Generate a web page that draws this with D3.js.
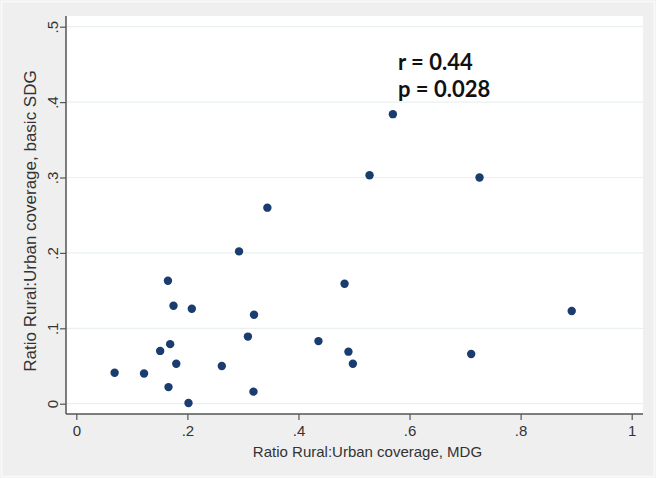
<!DOCTYPE html>
<meta charset="utf-8">
<script src="https://cdn.jsdelivr.net/npm/d3@7/dist/d3.min.js"></script>
<style>
body { margin: 0; background: #efefef; }
text { font-family: "Liberation Sans", Arial, sans-serif; fill: #333; }
.ann { font-family: Lato, "Open Sans", sans-serif; font-weight: 700; font-size: 22px; fill: #111; }
</style>
<body>
<script>

// MDG ratio (x) and basic SDG ratio (y), one entry per country
var mdg = [0.069, 0.122, 0.151, 0.165, 0.169, 0.175, 0.180, 0.166, 0.202, 0.208,
           0.262, 0.293, 0.309, 0.320, 0.319, 0.344, 0.436, 0.483, 0.490, 0.498,
           0.528, 0.570, 0.711, 0.726, 0.892];
var sdg = [0.041, 0.040, 0.070, 0.163, 0.079, 0.130, 0.053, 0.022, 0.001, 0.126,
           0.050, 0.202, 0.089, 0.118, 0.016, 0.260, 0.083, 0.159, 0.069, 0.053,
           0.303, 0.384, 0.066, 0.300, 0.123];

var xTicks = [0, 0.2, 0.4, 0.6, 0.8, 1];
var yTicks = [0, 0.1, 0.2, 0.3, 0.4, 0.5];
var notes = ["r = 0.44", "p = 0.028"];

var width = 656, height = 478;

var svg = d3.select("body").append("svg")
    .attr("width", width)
    .attr("height", height);

// outer frame
svg.append("rect")
    .attr("x", 1.5).attr("y", 1.5)
    .attr("width", width - 3).attr("height", height - 3)
    .attr("fill", "#efefef")
    .attr("stroke", "#fafafa")
    .attr("stroke-width", 1.5);

var plot = {left: 66, top: 16, right: 643, bottom: 414};

var x = d3.scaleLinear().domain([0, 1]).range([76.3, 631.7]);
var y = d3.scaleLinear().domain([0, 0.5]).range([403.7, 26.7]);

svg.append("rect")
    .attr("x", plot.left).attr("y", plot.top)
    .attr("width", plot.right - plot.left)
    .attr("height", plot.bottom - plot.top)
    .attr("fill", "#fff");

// grid lines
svg.append("g")
  .selectAll("line")
  .data(yTicks)
  .enter().append("line")
    .attr("x1", plot.left).attr("x2", plot.right)
    .attr("y1", function(d) { return y(d); })
    .attr("y2", function(d) { return y(d); })
    .attr("stroke", "#eaf0f2")
    .attr("stroke-width", 1.2);

// x axis
var xAxis = svg.append("g")
    .attr("transform", "translate(0," + plot.bottom + ")")
    .call(d3.axisBottom(x).tickValues(xTicks).tickSize(6).tickPadding(5)
      .tickFormat(function(d) { return d === 0 ? "0" : d === 1 ? "1" : d3.format(".1f")(d).replace(/^0/, ""); }));
xAxis.select(".domain").remove();
xAxis.append("line")
    .attr("x1", plot.left).attr("x2", plot.right)
    .attr("stroke", "#555").attr("stroke-width", 1.5);
xAxis.selectAll(".tick line").attr("stroke", "#555").attr("stroke-width", 1.2);
xAxis.selectAll(".tick text").attr("font-size", 15).attr("fill", "#333")
    .attr("font-family", "Liberation Sans, Arial, sans-serif");

// y axis
var yAxis = svg.append("g")
    .attr("transform", "translate(" + plot.left + ",0)")
    .call(d3.axisLeft(y).tickValues(yTicks).tickSize(6).tickPadding(0)
      .tickFormat(function(d) { return d === 0 ? "0" : d3.format(".1f")(d).replace(/^0/, ""); }));
yAxis.select(".domain").remove();
yAxis.append("line")
    .attr("y1", plot.top).attr("y2", plot.bottom)
    .attr("stroke", "#555").attr("stroke-width", 1.5);
yAxis.selectAll(".tick line").attr("stroke", "#555").attr("stroke-width", 1.2);
yAxis.selectAll(".tick text")
    .attr("font-size", 15).attr("fill", "#333")
    .attr("font-family", "Liberation Sans, Arial, sans-serif")
    .attr("x", null).attr("dy", null)
    .attr("text-anchor", "middle")
    .attr("transform", "translate(-13,0) rotate(-90)")
    .attr("y", 5);

// axis titles
svg.append("text")
    .attr("x", (plot.left + plot.right) / 2 + 13)
    .attr("y", 457)
    .attr("text-anchor", "middle")
    .attr("font-size", 15)
    .text("Ratio Rural:Urban coverage, MDG");

svg.append("text")
    .attr("transform", "translate(36,221) rotate(-90)")
    .attr("text-anchor", "middle")
    .attr("font-size", 17)
    .text("Ratio Rural:Urban coverage, basic SDG");

// points
svg.append("g")
  .selectAll("circle")
  .data(mdg)
  .enter().append("circle")
    .attr("cx", function(d) { return x(d); })
    .attr("cy", function(d, i) { return y(sdg[i]); })
    .attr("r", 4.2)
    .attr("fill", "#1a3c6e");

// annotation
svg.append("g")
  .selectAll("text")
  .data(notes)
  .enter().append("text")
    .attr("class", "ann")
    .attr("x", 398)
    .attr("y", function(d, i) { return 70 + i * 27; })
    .text(function(d) { return d; });

</script>
</body>
